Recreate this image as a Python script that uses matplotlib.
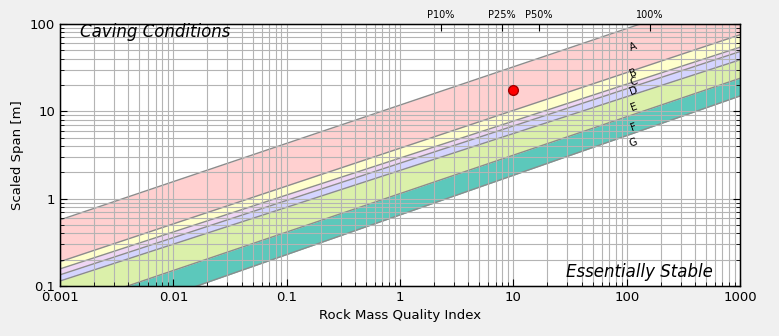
import matplotlib.pyplot as plt
import numpy as np
from matplotlib.ticker import FuncFormatter

# boundary lines  S = coef * Q**expo, from upper (A) to lower (G)
lineCoef = [11.75, 3.77, 2.91, 2.54, 2.10, 1.14, 0.65]
lineExpo = [0.438, 0.433, 0.423, 0.426, 0.422, 0.44, 0.454]
bandColors = ['#ffd0d0', '#ffffcc', '#efd6f5', '#d4d4ff', '#dbf0aa', '#5cc8bb']

# zone letters and where they sit
zoneNames = ['A', 'B', 'C', 'D', 'E', 'F', 'G']
zoneQ = [115, 115, 115, 115, 115, 115, 115]
zoneS = [55, 27.5, 21.7, 17.1, 11.3, 6.5, 4.3]

# percentile marks on the top axis
pctQ = [2.3, 7.9, 16.8, 161]
pctNames = ['P10%', 'P25%', 'P50%', '100%']

# the case being checked
caseQ = [10]
caseS = [17.5]

fig = plt.figure(figsize=(7.79, 3.36), dpi=100, facecolor='#f0f0f0')
ax = fig.add_axes([0.077, 0.149, 0.873, 0.780])

q = np.logspace(-3, 3, 200)
lines = [c * q ** e for c, e in zip(lineCoef, lineExpo)]
for i in range(len(bandColors)):
    ax.fill_between(q, lines[i + 1], lines[i], color=bandColors[i], lw=0, zorder=1)
for l in lines:
    ax.plot(q, l, color='#8c8c8c', lw=1.0, zorder=2)

ax.plot(caseQ, caseS, 'o', color='red', mec='#a00000', ms=7, zorder=5)

for n, x, y in zip(zoneNames, zoneQ, zoneS):
    ax.text(x, y, n, fontsize=7.5, rotation=20, ha='center', va='center', zorder=4)

ax.set_xscale('log')
ax.set_yscale('log')
ax.set_xlim(0.001, 1000)
ax.set_ylim(0.1, 100)
ax.grid(True, which='both', color='#b4b4b4', lw=0.8, ls='-', zorder=1.5)
ax.set_axisbelow(False)

fmt = FuncFormatter(lambda v, p: ('%g' % v))
ax.xaxis.set_major_formatter(fmt)
ax.yaxis.set_major_formatter(fmt)
ax.tick_params(which='both', direction='in', top=False, right=True, labelsize=9.5)
ax.tick_params(which='major', length=5)
ax.tick_params(which='minor', length=3)
for s in ax.spines.values():
    s.set_linewidth(1.0)
    s.set_zorder(6)

ax.set_xlabel('Rock Mass Quality Index', fontsize=9.5)
ax.set_ylabel('Scaled Span [m]', fontsize=9.5)

ax.text(0.03, 0.968, 'Caving Conditions', transform=ax.transAxes, fontsize=12,
        style='italic', ha='left', va='center', zorder=7)
ax.text(0.96, 0.02, 'Essentially Stable', transform=ax.transAxes, fontsize=12,
        style='italic', ha='right', va='bottom', zorder=7)

top = ax.twiny()
top.set_xscale('log')
top.set_xlim(ax.get_xlim())
top.set_xticks(pctQ)
top.set_xticklabels(pctNames)
top.xaxis.set_minor_locator(plt.NullLocator())
top.tick_params(direction='in', length=5, labelsize=7, pad=3)

fig.savefig('out.png', dpi=100, facecolor=fig.get_facecolor())
